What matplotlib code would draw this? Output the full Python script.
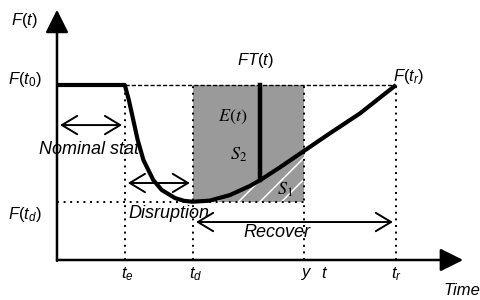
import matplotlib
matplotlib.use('Agg')
import matplotlib.pyplot as plt
import numpy as np

plt.rcParams['font.family'] = ['Liberation Sans', 'DejaVu Sans']
plt.rcParams['mathtext.fontset'] = 'custom'
plt.rcParams['mathtext.rm'] = 'Liberation Sans'
plt.rcParams['mathtext.it'] = 'Liberation Sans:italic'

# Event times and performance levels
t_e = 2.0       # disruption event
t_d = 4.0       # lowest point
t_bar = 6.0     # current time t
t_y = 7.3       # time y
t_r = 10.0      # fully recovered
F_0 = 1.0
F_d = 0.33

# Performance curve F(t)
curve_t = [0.0, 2.0, 2.12, 2.25, 2.38, 2.55, 2.84, 3.09, 3.48, 3.75, 4.0,
           4.5, 5.1, 5.69, 6.0, 6.58, 7.3, 8.05, 8.94, 10.0]
curve_F = [1.0, 1.0, 0.914, 0.80, 0.686, 0.571, 0.457, 0.40, 0.354, 0.338, 0.333,
           0.339, 0.371, 0.423, 0.457, 0.53, 0.625, 0.724, 0.838, 1.0]

fig = plt.figure(figsize=(4.81, 3.0), dpi=100)
ax = fig.add_axes([0, 0, 1, 1])
ax.set_xlim(-1.681, 12.507)
ax.set_ylim(-0.2286, 1.4857)
ax.axis('off')

# gray box between t_d and y
ax.fill_between([t_d, t_y], F_d, F_0, color='#9a9a9a', lw=0, zorder=1)

# area S1 under the curve, hatched with white diagonal lines
ct = np.array(curve_t)
cf = np.array(curve_F)
mask = (ct >= t_d) & (ct <= t_y)
s1 = ax.fill_between(ct[mask], F_d, cf[mask], facecolor='none', lw=0, zorder=2)
clip_path = s1.get_paths()[0]
gap = 0.215  # inches between hatch lines
for k in range(-3, 8):
    c = 1.403 + k * gap
    ln, = ax.plot([c, c + 1.5], [0, 1.5], color='white', lw=1.1,
                  transform=fig.dpi_scale_trans, zorder=2)
    ln.set_clip_path(clip_path, ax.transData)

# guide lines
dot = (0, (1, 2.4))
for tv in [t_e, t_d, t_y, t_r]:
    ax.plot([tv, tv], [0, F_0], color='k', lw=1.4, ls=dot, zorder=3)
ax.plot([0, t_y], [F_d, F_d], color='k', lw=1.4, ls=dot, zorder=3)
ax.plot([t_e, t_r], [F_0, F_0], color='k', lw=1.0, ls=(0, (3, 1.5)), zorder=3)

# curve and E(t) bar
ax.plot(curve_t, curve_F, color='k', lw=3.0, solid_joinstyle='round', solid_capstyle='butt', zorder=4)
F_bar = np.interp(t_bar, curve_t, curve_F)
ax.plot([t_bar, t_bar], [F_bar, F_0], color='k', lw=3.2, zorder=4)

# axes with arrows
ax.annotate('', xy=(11.98, 0), xytext=(0, 0),
            arrowprops=dict(arrowstyle='-|>,head_length=0.7,head_width=0.35', lw=1.8, color='k',
                            shrinkA=0, shrinkB=0, mutation_scale=20))
ax.annotate('', xy=(0, 1.43), xytext=(0, -0.005),
            arrowprops=dict(arrowstyle='-|>,head_length=0.7,head_width=0.35', lw=1.8, color='k',
                            shrinkA=0, shrinkB=0, mutation_scale=20))

# phase arrows
arr = dict(arrowstyle='<->,head_length=0.55,head_width=0.33', lw=1.4, color='k',
           shrinkA=0, shrinkB=0, mutation_scale=20)
ax.annotate('', xy=(0.09, 0.771), xytext=(1.92, 0.771), arrowprops=arr)
ax.annotate('', xy=(2.09, 0.44), xytext=(3.92, 0.44), arrowprops=arr)
ax.annotate('', xy=(4.1, 0.217), xytext=(9.91, 0.217), arrowprops=arr)

fs = 12
ax.text(-0.95, 1.37, r'$F(t)$', fontsize=fs, ha='center', va='center')
ax.text(-0.95, 1.03, r'$F(t_0)$', fontsize=fs, ha='center', va='center')
ax.text(-0.95, 0.26, r'$F(t_d)$', fontsize=fs, ha='center', va='center')
ax.text(5.87, 1.14, r'$FT(t)$', fontsize=fs, ha='center', va='center')
ax.text(9.9, 1.05, r'$F(t_r)$', fontsize=fs, ha='left', va='center')

ax.text(5.19, 0.815, r'$E(t)$', fontsize=13, ha='center', va='center', math_fontfamily='stix')
ax.text(5.35, 0.6, r'$S_2$', fontsize=13, ha='center', va='center', math_fontfamily='stix')
ax.text(6.73, 0.40, r'$S_1$', fontsize=13, ha='center', va='center', math_fontfamily='stix')

ax.text(0.95, 0.63, 'Nominal stat', fontsize=13, style='italic', ha='center', va='center')
ax.text(3.3, 0.267, 'Disruption', fontsize=13, style='italic', ha='center', va='center')
ax.text(6.5, 0.155, 'Recover', fontsize=13, style='italic', ha='center', va='center')

for tv, lab in [(2.07, r'$t_e$'), (4.1, r'$t_d$'), (7.37, r'$y$'), (7.9, r'$t$'), (10.02, r'$t_r$')]:
    ax.text(tv, -0.08, lab, fontsize=fs, ha='center', va='center')
ax.text(11.39, -0.177, 'Time', fontsize=12, style='italic', ha='left', va='center')

fig.savefig('out.png', dpi=100)
